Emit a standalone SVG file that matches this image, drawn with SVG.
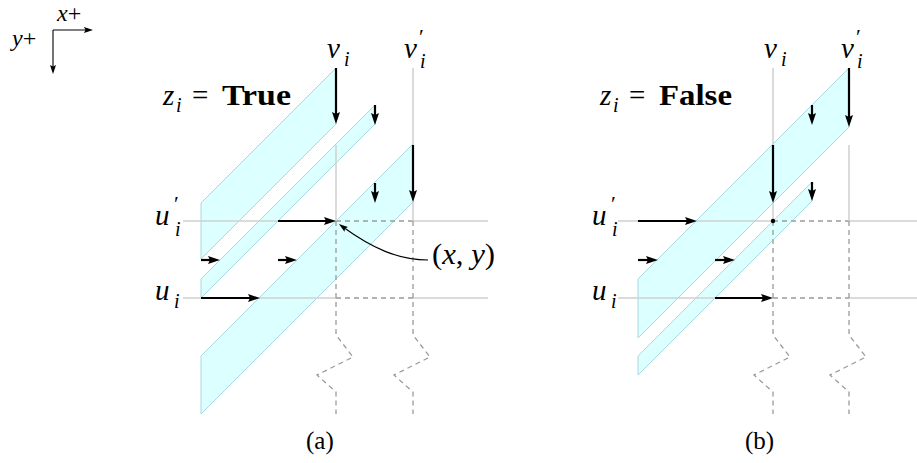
<svg xmlns="http://www.w3.org/2000/svg" width="917" height="463" viewBox="0 0 917 463">
<defs>
<style>
.band{fill:#dcffff;stroke:#a8d8e4;stroke-width:1}
.grid{stroke:#cfcfcf;stroke-width:1.5;fill:none}
.dash{stroke:#9a9a9a;stroke-width:1.3;stroke-dasharray:5 4;fill:none}
.arr{stroke:#000;stroke-width:2.2;fill:none;marker-end:url(#ah)}
.thin{stroke:#000;stroke-width:1.1;fill:none;marker-end:url(#ahs)}
</style>
<marker id="ah" markerUnits="userSpaceOnUse" markerWidth="13" markerHeight="9" refX="6" refY="4" orient="auto">
<path d="M0,0 L12,4 L0,8 L2,4 z" fill="#000"/>
</marker>
<marker id="ahs" markerUnits="userSpaceOnUse" markerWidth="10" markerHeight="7" refX="4" refY="3" orient="auto">
<path d="M0,0 L9,3 L0,6 L1.5,3 z" fill="#000"/>
</marker>
</defs>

<g id="axes">
<path class="thin" d="M53,30 H88"/>
<path class="thin" d="M53,30 V69"/>
<g font-family="'Liberation Serif','DejaVu Serif','Times New Roman',serif" font-size="24" fill="#000">
<text x="57" y="21"><tspan font-style="italic">x</tspan>+</text>
<text x="12" y="46"><tspan font-style="italic">y</tspan>+</text>
</g>
</g>

<!-- Panel (a) -->
<g id="panel-a-bands">
<polygon id="a-band1" class="band" points="336,68 336,124 201,259 201,203"/>
<polygon id="a-band2" class="band" points="375,105 375,124 201,298 201,279"/>
<polygon id="a-band3" class="band" points="413,144 413,202 201,414 201,356"/>
</g>
<g id="panel-a-grid">
<path class="grid" d="M183,221 H336 M413,221 H488"/>
<path class="grid" d="M183,298 H336 M413,298 H488"/>
<path class="dash" d="M336,221 H413 M336,298 H413"/>
<path class="grid" d="M336,145 V221 M413,68 V145 M413,202 V221"/>
<path class="dash" d="M336,221 V335 L353,357 L317,375 L336,392 V414"/>
<path class="dash" d="M413,221 V335 L430,357 L394,375 L413,392 V414"/>
</g>
<g id="panel-a-connectors">
<path class="arr" d="M336,68 V118"/>
<path class="arr" d="M375,105 V119"/>
<path class="arr" d="M375,183 V197"/>
<path class="arr" d="M413,145 V196"/>
<path class="arr" d="M278,221 H330"/>
<path class="arr" d="M201,260 H214"/>
<path class="arr" d="M278,260 H291"/>
<path class="arr" d="M201,298 H254"/>
<path class="thin" d="M428,260 C398,260 372,248 343,227"/>
</g>
<g id="panel-a-labels" font-family="'Liberation Serif','DejaVu Serif','Times New Roman',serif" fill="#000">
<text x="327" y="58" font-size="29" font-style="italic">v</text><text x="344" y="66" font-size="20" font-style="italic">i</text>
<text x="404" y="58" font-size="29" font-style="italic">v</text><text x="419" y="44" font-size="22">′</text><text x="420" y="68" font-size="20" font-style="italic">i</text>
<text x="163" y="105" font-size="29" font-style="italic">z</text><text x="176" y="112" font-size="20" font-style="italic">i</text>
<text x="192" y="105" font-size="29">=</text>
<text x="222" y="105" font-size="29" font-weight="bold" textLength="69" lengthAdjust="spacingAndGlyphs">True</text>
<text x="155" y="225" font-size="29" font-style="italic">u</text><text x="174" y="211" font-size="22">′</text><text x="175" y="236" font-size="20" font-style="italic">i</text>
<text x="155" y="300" font-size="29" font-style="italic">u</text><text x="174" y="308" font-size="20" font-style="italic">i</text>
<text x="432" y="264" font-size="29" textLength="63" lengthAdjust="spacingAndGlyphs">(<tspan font-style="italic">x</tspan>, <tspan font-style="italic">y</tspan>)</text>
<text x="306" y="449" font-size="25">(a)</text>
</g>

<!-- Panel (b) -->
<g id="panel-b-bands">
<polygon id="b-bandA" class="band" points="849,68 849,127 638,338 638,279"/>
<polygon id="b-bandB" class="band" points="812,182 812,201 638,375 638,356"/>
</g>
<g id="panel-b-grid">
<path class="grid" d="M618,221 H638 M697,221 H773 M849,221 H917"/>
<path class="grid" d="M618,298 H715 M849,298 H917"/>
<path class="dash" d="M773,221 H849 M773,298 H849"/>
<path class="grid" d="M773,68 V145 M773,203 V221 M849,145 V221"/>
<path class="dash" d="M773,221 V335 L790,357 L754,375 L773,392 V414"/>
<path class="dash" d="M849,221 V335 L866,357 L830,375 L849,392 V414"/>
</g>
<g id="panel-b-connectors">
<path class="arr" d="M849,68 V121"/>
<path class="arr" d="M812,105 V119"/>
<path class="arr" d="M773,145 V197"/>
<path class="arr" d="M812,182 V195"/>
<path class="arr" d="M638,221 H691"/>
<path class="arr" d="M638,260 H652"/>
<path class="arr" d="M715,260 H729"/>
<path class="arr" d="M715,298 H767"/>
<circle cx="773" cy="221" r="2.2" fill="#000"/>
</g>
<g id="panel-b-labels" font-family="'Liberation Serif','DejaVu Serif','Times New Roman',serif" fill="#000">
<text x="764" y="58" font-size="29" font-style="italic">v</text><text x="781" y="66" font-size="20" font-style="italic">i</text>
<text x="841" y="58" font-size="29" font-style="italic">v</text><text x="856" y="44" font-size="22">′</text><text x="857" y="68" font-size="20" font-style="italic">i</text>
<text x="600" y="105" font-size="29" font-style="italic">z</text><text x="613" y="112" font-size="20" font-style="italic">i</text>
<text x="629" y="105" font-size="29">=</text>
<text x="659" y="105" font-size="29" font-weight="bold" textLength="73" lengthAdjust="spacingAndGlyphs">False</text>
<text x="592" y="225" font-size="29" font-style="italic">u</text><text x="611" y="211" font-size="22">′</text><text x="612" y="236" font-size="20" font-style="italic">i</text>
<text x="592" y="300" font-size="29" font-style="italic">u</text><text x="611" y="308" font-size="20" font-style="italic">i</text>
<text x="745" y="449" font-size="25">(b)</text>
</g>
</svg>
